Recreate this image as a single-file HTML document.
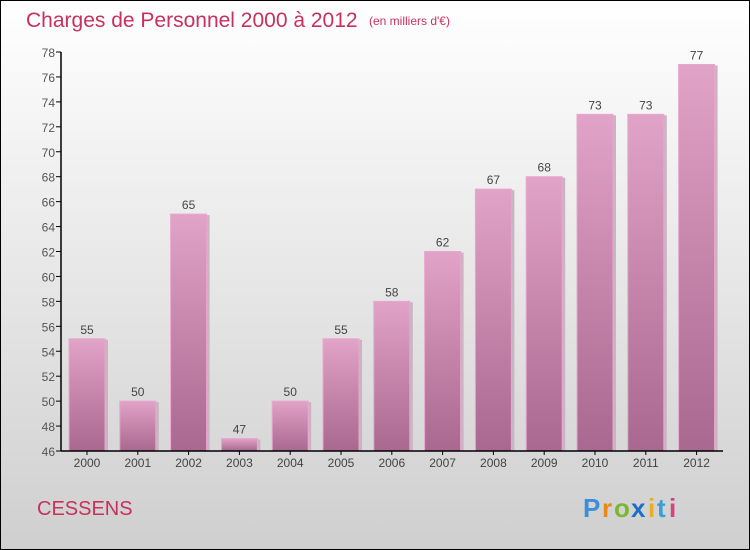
<!DOCTYPE html>
<html><head><meta charset="utf-8"><style>
body{margin:0}
#c{position:relative;width:748px;height:548px;border:1px solid #000;background:linear-gradient(#fff,#cfcfcf);font-family:"Liberation Sans",sans-serif;overflow:hidden}
</style></head><body>
<div id="c">
<svg width="748" height="548" id="svg">
<defs><linearGradient id="g" x1="0" y1="0" x2="0" y2="1"><stop offset="0" stop-color="#e2a3c8"/><stop offset="1" stop-color="#a9688f"/></linearGradient></defs>
<text x="25" y="26" font-size="21" fill="#c8305e">Charges de Personnel 2000 à 2012</text>
<text x="368" y="24" font-size="12" fill="#c8305e">(en milliers d'€)</text>
<text x="36" y="514" font-size="20" fill="#c8305e">CESSENS</text>
<g font-size="26" font-weight="bold"><text x="582" y="516" fill="#3a8fd8">P</text><text x="601" y="516" fill="#e88a1a">r</text><text x="613" y="516" fill="#7ab830">o</text><text x="630" y="516" fill="#1a70c8">x</text><text x="647" y="516" fill="#e8b020">i</text><text x="656" y="516" fill="#3a9fd8">t</text><text x="668" y="516" fill="#d84080">i</text></g>
<g id="plot"></g>
</svg></div>
<script>
const categories=["2000","2001","2002","2003","2004","2005","2006","2007","2008","2009","2010","2011","2012"];
const values=[55,50,65,47,50,55,58,62,67,68,73,73,77];
const ticks=[46,48,50,52,54,56,58,60,62,64,66,68,70,72,74,76,78];
const ns="http://www.w3.org/2000/svg";
const yMin=46,yMax=78,y0=450,y1=51,xL=60;
const y=v=>y0-(v-yMin)*(y0-y1)/(yMax-yMin);
const x=i=>68+i*50.8;
const p=document.getElementById('plot');
function mk(t,a,txt){const e=document.createElementNS(ns,t);for(const k in a)e.setAttribute(k,a[k]);if(txt!==undefined)e.textContent=txt;p.appendChild(e);return e;}
values.forEach((v,i)=>{
 const s=mk('rect',{x:x(i)+3,y:y(v)+1,width:36,height:y0-y(v)-1,fill:'#c9b5c2'});
 
 
 const b=mk('rect',{x:x(i),y:y(v),width:36,height:y0-y(v),fill:'url(#g)',stroke:'#e8a8cc','stroke-width':1});
 
 
 const l=mk('text',{x:x(i)+18,y:y(v)-5,'font-size':12,fill:'#444','text-anchor':'middle'},v);
 
 
 const c=mk('text',{x:x(i)+18,y:466,'font-size':12,fill:'#444','text-anchor':'middle'},categories[i]);
 
 
 const t=mk('line',{x1:x(i)+18,x2:x(i)+18,y1:450,y2:454,stroke:'#000'});
 
 
});
ticks.forEach(v=>{
 const t=mk('line',{x1:55,x2:60,y1:y(v),y2:y(v),stroke:'#000'});
 
 
 const l=mk('text',{x:54,y:y(v)+5,'font-size':12,fill:'#555','text-anchor':'end'},v);
 
 
});
const ya=mk('line',{x1:xL,x2:xL,y1:y1,y2:y0,stroke:'#000','stroke-width':1.5});


const xa=mk('line',{x1:xL,x2:722,y1:y0,y2:y0,stroke:'#000','stroke-width':1.5});


</script>
</body></html>
